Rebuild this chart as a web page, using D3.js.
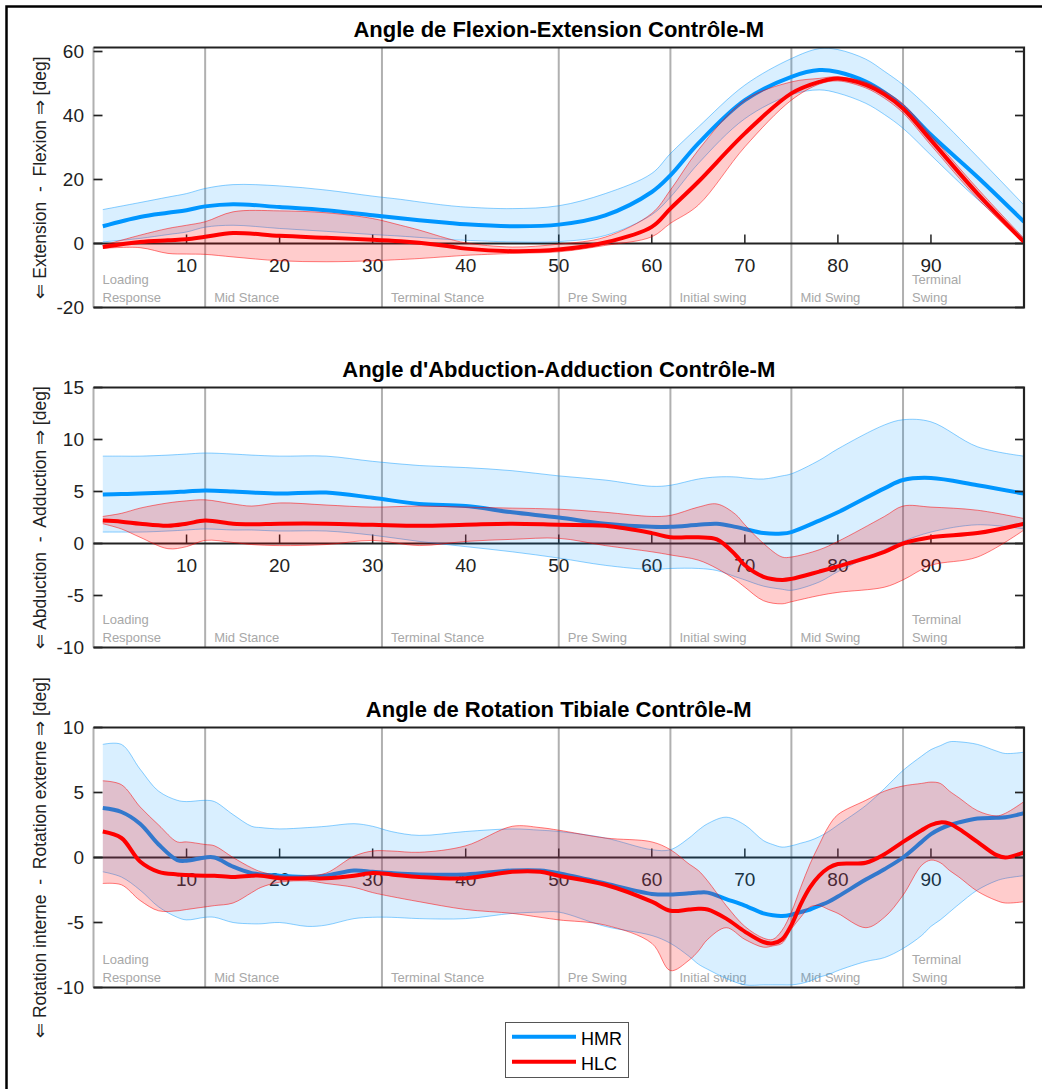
<!DOCTYPE html>
<html>
<head>
<meta charset="utf-8">
<script src="https://cdn.jsdelivr.net/npm/d3@7"></script>
<style>
  body { margin: 0; background: #fff; }
  svg { display: block; font-family: "Liberation Sans", Arial, Helvetica, sans-serif; }
</style>
</head>
<body>
<svg id="fig" width="1042" height="1089"></svg>
<script>
// ---- gait cycle phases (percent of cycle) ----
const phaseStart = [0, 12, 31, 50, 62, 75, 87];
const phaseNames = [["Loading", "Response"], ["Mid Stance"], ["Terminal Stance"], ["Pre Swing"],
                    ["Initial swing"], ["Mid Swing"], ["Terminal", "Swing"]];
const xTickValues = [10, 20, 30, 40, 50, 60, 70, 80, 90];

// ---- Flexion-Extension ----
const flexX = [1,5,8,10,12,15,20,25,30,33,35,38,40,45,50,55,60,62,65,70,75,78,80,83,85,87,90,95,100];
const flexHmrMean = [5.4,8.3,9.6,10.4,11.6,12.3,11.4,10.4,8.8,7.9,7.3,6.5,6.0,5.4,5.9,8.8,16.1,21.3,31.3,44.8,52.1,54.2,53.6,50.6,47.2,42.8,34.0,20.8,6.8];
const flexHmrHi   = [10.6,12.8,14.5,15.6,17.2,18.4,18.0,16.7,14.8,13.8,13.0,11.9,11.4,10.9,11.8,15.6,21.9,28.1,36.4,49.5,57.8,60.9,60.6,57.6,53.8,49.6,41.7,27.1,12.0];
const flexHmrLo   = [0.5,1.6,2.8,3.6,5.1,5.7,4.7,3.8,2.8,2.3,1.9,1.3,1.0,0.5,0.6,2.5,9.0,14.5,25.0,39.0,46.5,48.0,47.0,43.8,40.3,36.0,27.6,13.8,1.6];
const flexHlcMean = [-1.1,0.5,1.0,1.3,2.1,3.3,2.4,1.8,1.2,0.7,0.2,-0.8,-1.6,-2.4,-1.9,0.3,5.2,10.9,19.3,34.4,46.9,50.5,51.6,49.6,46.6,42.2,32.3,15.6,0.5];
const flexHlcHi   = [-0.6,2.6,4.7,5.7,6.8,9.9,10.2,9.6,7.8,5.7,4.2,1.6,0.2,-1.1,-0.2,2.0,9.4,16.7,29.2,44.8,50.5,51.6,52.1,50.4,47.6,43.6,33.8,17.2,1.6];
const flexHlcLo   = [-1.5,-1.3,-3.1,-3.3,-3.4,-4.2,-5.4,-5.7,-5.4,-5.0,-4.7,-4.1,-3.7,-3.1,-2.6,-0.6,2.1,6.3,12.0,30.2,44.8,49.8,50.8,48.6,45.4,40.8,30.7,14.1,0.0];

// ---- Abduction-Adduction ----
const abdX = [1,3,5,8,10,12,15,17,20,25,30,35,40,45,50,55,60,62,65,67,69,70,72,74,75,78,80,85,87,90,95,100];
const abdHmrMean = [4.7,4.75,4.8,4.9,5.0,5.1,5.0,4.9,4.8,4.9,4.4,3.8,3.6,3.0,2.5,1.9,1.6,1.6,1.8,1.9,1.6,1.4,1.0,0.95,1.1,2.2,3.0,5.3,6.1,6.3,5.6,4.8];
const abdHmrHi   = [8.4,8.4,8.4,8.5,8.6,8.7,8.6,8.5,8.4,8.4,7.9,7.5,7.3,7.0,6.5,6.1,5.5,5.6,6.2,6.4,6.4,6.3,6.2,6.5,6.7,8.0,9.1,11.4,11.9,11.7,9.3,8.4];
const abdHmrLo   = [1.1,1.1,1.1,1.2,1.3,1.4,1.3,1.3,1.2,1.2,0.8,0.2,-0.3,-0.8,-1.4,-2.1,-2.5,-2.4,-2.4,-2.6,-3.2,-3.5,-4.1,-4.4,-4.5,-3.7,-2.7,-0.6,0.2,1.1,1.8,1.4];
const abdHlcMean = [2.2,2.1,1.9,1.7,1.9,2.2,1.9,1.85,1.9,1.9,1.8,1.7,1.8,1.9,1.8,1.7,1.0,0.6,0.6,0.4,-1.1,-2.1,-3.2,-3.5,-3.4,-2.7,-2.2,-0.8,0.0,0.6,1.0,1.9];
const abdHlcHi   = [2.6,2.9,3.4,3.9,4.1,4.2,3.8,3.6,3.9,3.7,3.5,3.6,3.5,3.4,3.3,3.0,2.6,2.7,3.5,3.8,2.8,1.8,0.0,-1.3,-1.3,-0.6,0.2,2.6,3.6,3.5,3.2,2.4];
const abdHlcLo   = [1.9,1.4,0.6,-0.5,-0.3,0.3,0.1,-0.1,-0.2,-0.1,0.3,-0.2,0.2,0.4,0.5,-0.2,-0.8,-1.1,-1.6,-2.4,-3.5,-4.2,-5.5,-5.8,-5.6,-5.0,-4.7,-4.2,-3.5,-2.1,-1.3,1.3];

// ---- Tibial rotation ----
const rotX = [1,3,5,7,9,10,12,13,15,17,18,20,23,25,28,30,32,35,40,45,48,50,55,60,62,64,65,66,68,70,72,73,74,75,76,77,78,79,80,83,85,87,89,90,91,92,93,95,97,98,100];
const rotHmrMean = [3.8,3.5,2.6,1.0,-0.2,-0.25,0.0,0.0,-0.7,-1.2,-1.3,-1.4,-1.5,-1.4,-1.0,-1.1,-1.2,-1.3,-1.3,-1.0,-1.0,-1.2,-2.0,-2.8,-2.85,-2.75,-2.7,-2.7,-3.2,-3.7,-4.3,-4.45,-4.5,-4.4,-4.2,-4.0,-3.7,-3.4,-3.0,-1.7,-0.9,0.0,1.2,1.8,2.2,2.5,2.7,3.0,3.05,3.1,3.4];
const rotHmrHi   = [8.7,8.7,6.8,5.1,4.4,4.3,4.4,4.3,3.3,2.4,2.3,2.2,2.3,2.4,2.6,2.4,2.0,1.7,2.0,2.2,2.1,2.0,1.5,0.6,0.6,1.5,2.1,2.6,3.1,2.5,1.3,1.0,0.8,0.9,1.1,1.3,1.6,2.0,2.5,4.0,5.3,6.7,7.8,8.3,8.6,8.9,8.9,8.7,8.2,8.0,8.1];
const rotHmrLo   = [-1.1,-1.5,-2.5,-3.8,-4.6,-4.8,-4.6,-4.6,-5.0,-5.1,-5.1,-5.0,-5.3,-5.2,-4.7,-4.6,-4.6,-4.7,-4.7,-4.3,-4.2,-4.2,-5.3,-6.0,-6.6,-7.6,-8.2,-8.6,-9.3,-9.8,-9.8,-9.8,-9.8,-9.8,-9.7,-9.5,-9.2,-9.0,-8.7,-8.0,-7.7,-7.0,-6.0,-5.3,-4.8,-4.2,-3.6,-2.5,-1.8,-1.6,-1.4];
const rotHlcMean = [2.0,1.5,-0.3,-1.1,-1.3,-1.35,-1.4,-1.4,-1.5,-1.4,-1.4,-1.6,-1.6,-1.6,-1.4,-1.2,-1.3,-1.5,-1.6,-1.1,-1.1,-1.4,-2.1,-3.4,-4.1,-4.0,-3.95,-4.0,-4.7,-5.7,-6.5,-6.6,-6.3,-5.2,-3.6,-2.3,-1.4,-0.8,-0.5,-0.4,0.25,1.2,2.1,2.5,2.7,2.6,2.2,1.2,0.2,0.0,0.4];
const rotHlcHi   = [5.9,5.6,3.9,2.5,1.2,1.2,1.0,0.9,0.0,-0.8,-1.1,-1.4,-1.4,-1.2,0.1,0.5,0.5,0.4,0.9,2.4,2.3,2.1,1.5,1.2,0.6,-0.5,-1.0,-1.8,-3.7,-5.3,-6.2,-6.3,-5.6,-4.2,-2.3,-0.5,1.0,2.4,3.3,4.4,5.1,5.5,5.7,5.8,5.7,5.1,4.6,3.6,3.2,3.4,4.3];
const rotHlcLo   = [-2.0,-2.1,-3.3,-4.1,-4.1,-4.0,-3.8,-3.7,-3.5,-2.7,-2.3,-1.9,-1.8,-2.0,-2.3,-2.7,-3.0,-3.4,-4.0,-4.3,-4.6,-4.8,-5.2,-6.6,-8.7,-7.9,-7.2,-6.3,-5.4,-6.3,-6.9,-6.8,-6.6,-5.5,-4.6,-3.8,-3.7,-4.0,-4.3,-5.4,-4.6,-2.9,-0.6,-0.2,-0.4,-1.0,-1.5,-2.6,-3.3,-3.5,-3.4];

// ---- panel definitions ----
const panelTitles = ["Angle de Flexion-Extension Contrôle-M",
                     "Angle d'Abduction-Adduction Contrôle-M",
                     "Angle de Rotation Tibiale Contrôle-M"];
const panelYLabels = ["\u21D0 Extension  -  Flexion \u21D2 [deg]",
                      "\u21D0 Abduction  -  Adduction \u21D2 [deg]",
                      "\u21D0 Rotation interne  -  Rotation externe \u21D2 [deg]"];
const panelYDomains = [[-20, 61.25], [-10, 15], [-10, 10]];
const panelYTicks = [[-20, 0, 20, 40, 60], [-10, -5, 0, 5, 10, 15], [-10, -5, 0, 5, 10]];
const seriesNames = ["HMR", "HLC"];

function rows(xs, m, lo, hi) {
  return xs.map((x, i) => ({ x, m: m[i], lo: lo[i], hi: hi[i] }));
}

const panels = [
  { series: [rows(flexX, flexHmrMean, flexHmrLo, flexHmrHi), rows(flexX, flexHlcMean, flexHlcLo, flexHlcHi)] },
  { series: [rows(abdX, abdHmrMean, abdHmrLo, abdHmrHi), rows(abdX, abdHlcMean, abdHlcLo, abdHlcHi)] },
  { series: [rows(rotX, rotHmrMean, rotHmrLo, rotHmrHi), rows(rotX, rotHlcMean, rotHlcLo, rotHlcHi)] }
];

// ---- styling ----
const seriesStyle = [
  { line: "#0096ff", fill: "rgba(0,150,255,0.15)", edge: "rgba(0,150,255,0.45)" },
  { line: "#ff0000", fill: "rgba(255,0,0,0.2)",    edge: "rgba(255,0,0,0.5)" }
];
const plotLeft = 93.5, plotRight = 1024, plotH = 260;
const panelTops = [47.5, 387.5, 727.5];

const svg = d3.select("#fig");

// outer figure frame
svg.append("rect").attr("x", 6.5).attr("y", 6.5).attr("width", 1200).attr("height", 1200)
  .attr("fill", "none").attr("stroke", "#000").attr("stroke-width", 2.5);

const x = d3.scaleLinear().domain([0, 100]).range([plotLeft, plotRight]);
const curve = d3.curveCatmullRom.alpha(0.5);

panels.forEach((p, pi) => {
  const top = panelTops[pi], bottom = top + plotH;
  const y = d3.scaleLinear().domain(panelYDomains[pi]).range([bottom, top]);
  const g = svg.append("g");

  const clipId = "clip" + pi;
  svg.append("clipPath").attr("id", clipId).append("rect")
    .attr("x", plotLeft).attr("y", top).attr("width", plotRight - plotLeft).attr("height", plotH);

  // phase separators
  g.append("g").selectAll("line").data(phaseStart).join("line")
    .attr("x1", d => x(d)).attr("x2", d => x(d)).attr("y1", top).attr("y2", bottom)
    .attr("stroke", "#b0b0b0").attr("stroke-width", 2);

  // phase names
  const names = g.append("g").attr("fill", "#a8a8a8").attr("font-size", 13);
  phaseStart.forEach((s, i) => {
    const lines = phaseNames[i];
    lines.forEach((t, k) => {
      names.append("text")
        .attr("x", x(s) + 9)
        .attr("y", bottom - 5.5 - (lines.length - 1 - k) * 18)
        .text(t);
    });
  });

  // zero axis with upward ticks and labels
  const y0 = y(0);
  g.append("line").attr("x1", plotLeft).attr("x2", plotRight).attr("y1", y0).attr("y2", y0)
    .attr("stroke", "#222").attr("stroke-width", 2);
  g.append("g").selectAll("line").data(xTickValues).join("line")
    .attr("x1", d => x(d)).attr("x2", d => x(d)).attr("y1", y0).attr("y2", y0 - 9)
    .attr("stroke", "#222").attr("stroke-width", 1.5);
  g.append("g").attr("font-size", 19).attr("fill", "#222").attr("text-anchor", "middle")
    .selectAll("text").data(xTickValues).join("text")
    .attr("x", d => x(d)).attr("y", y0 + 28).text(d => d);

  // bands and means
  const data = g.append("g").attr("clip-path", `url(#${clipId})`);
  p.series.forEach((s, si) => {
    const st = seriesStyle[si];
    data.append("path").datum(s)
      .attr("d", d3.area().curve(curve).x(d => x(d.x)).y0(d => y(d.lo)).y1(d => y(d.hi)))
      .attr("fill", st.fill).attr("stroke", "none");
    ["hi", "lo"].forEach(k => {
      data.append("path").datum(s)
        .attr("d", d3.line().curve(curve).x(d => x(d.x)).y(d => y(d[k])))
        .attr("fill", "none").attr("stroke", st.edge).attr("stroke-width", 1);
    });
    data.append("path").datum(s)
      .attr("d", d3.line().curve(curve).x(d => x(d.x)).y(d => y(d.m)))
      .attr("fill", "none").attr("stroke", st.line).attr("stroke-width", 4)
      .attr("stroke-linejoin", "round");
  });

  // y axis ticks (left and right, pointing inward)
  const yt = panelYTicks[pi];
  g.append("g").selectAll("line").data(yt).join("line")
    .attr("x1", plotLeft).attr("x2", plotLeft + 9).attr("y1", d => y(d)).attr("y2", d => y(d))
    .attr("stroke", "#222").attr("stroke-width", 1.7);
  g.append("g").selectAll("line").data(yt).join("line")
    .attr("x1", plotRight - 9).attr("x2", plotRight).attr("y1", d => y(d)).attr("y2", d => y(d))
    .attr("stroke", "#222").attr("stroke-width", 1.7);
  g.append("g").attr("font-size", 19).attr("fill", "#222").attr("text-anchor", "end")
    .selectAll("text").data(yt).join("text")
    .attr("x", 84).attr("y", d => y(d)).attr("dy", "0.36em").text(d => d);

  // plot box: top, right, bottom in black; left edge shows the first phase line
  g.append("path")
    .attr("d", `M${plotLeft},${top}H${plotRight}V${bottom}H${plotLeft}`)
    .attr("fill", "none").attr("stroke", "#222").attr("stroke-width", 2.2);

  // title
  g.append("text").attr("x", (plotLeft + plotRight) / 2).attr("y", top - 10.5)
    .attr("text-anchor", "middle").attr("font-size", 22).attr("font-weight", "bold")
    .attr("fill", "#000").text(panelTitles[pi]);

  // y label
  g.append("text")
    .attr("transform", `translate(46,${(top + bottom) / 2}) rotate(-90)`)
    .attr("text-anchor", "middle").attr("font-size", 17.5).attr("fill", "#222")
    .attr("xml:space", "preserve").style("white-space", "pre")
    .text(panelYLabels[pi]);
});

// legend
const legend = svg.append("g");
legend.append("rect").attr("x", 505.5).attr("y", 1022.5).attr("width", 123).attr("height", 55)
  .attr("fill", "#fff").attr("stroke", "#555").attr("stroke-width", 1);
seriesNames.forEach((name, i) => {
  const ly = 1036.7 + i * 25;
  legend.append("line").attr("x1", 512).attr("x2", 576).attr("y1", ly).attr("y2", ly)
    .attr("stroke", seriesStyle[i].line).attr("stroke-width", 4);
  legend.append("text").attr("x", 581).attr("y", ly + 8.3).attr("font-size", 18)
    .attr("fill", "#000").text(name);
});
</script>
</body>
</html>
